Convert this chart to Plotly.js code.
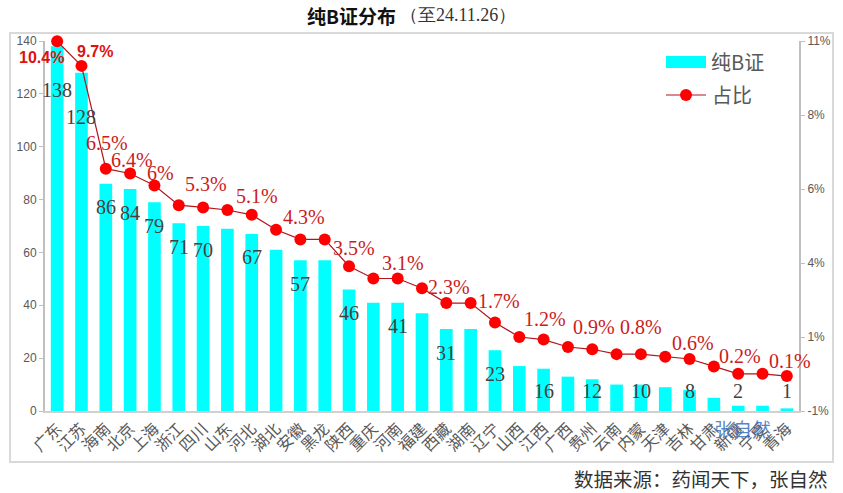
<!DOCTYPE html>
<html>
<head>
<meta charset="utf-8">
<script src="https://cdn.plot.ly/plotly-3.0.1.min.js"></script>
<style>html,body{margin:0;padding:0;background:#fff;}#chart{width:843px;height:493px;}</style>
</head>
<body>
<div id="chart"></div>
<script>
// ---- data ----
const provinces = ['广东','江苏','海南','北京','上海','浙江','四川','山东','河北','湖北','安徽','黑龙','陕西','重庆','河南','福建','西藏','湖南','辽宁','山西','江西','广西','贵州','云南','内蒙','天津','吉林','甘肃','新疆','宁夏','青海'];
const counts = [138,128,86,84,79,71,70,69,67,61,57,57,46,41,41,37,31,31,23,17,16,13,12,10,10,9,8,5,2,2,1];
const shares = [10.44,9.68,6.5,6.35,5.98,5.37,5.3,5.22,5.07,4.61,4.31,4.31,3.48,3.1,3.1,2.8,2.34,2.34,1.74,1.29,1.21,0.98,0.91,0.76,0.76,0.68,0.61,0.38,0.15,0.15,0.08];
const countLabels = ['138','128','86','84','79','71','70','','67','','57','','46','','41','','31','','23','','16','','12','','10','','8','','2','','1'];
const shareLabels = ['10.4%','9.7%','6.5%','6.4%','6%','','5.3%','','5.1%','','4.3%','','3.5%','','3.1%','','2.3%','','1.7%','','1.2%','','0.9%','','0.8%','','0.6%','','0.2%','','0.1%'];
const rightTickVals = [-1,1.29,3.58,5.87,8.16,10.45];
const rightTickText = ['-1%','1%','4%','6%','8%','11%'];
const titleMain = '纯B证分布';
const titleSub = '（至24.11.26）';
const seriesNames = ['纯B证','占比'];
const sourceText = '数据来源：药闻天下，张自然';
const watermark = '张自然';

// ---- label offsets (style only, px) ----
const shareOffsets = {0:[-16,-16],1:[14,14],2:[1,26],3:[2,13],4:[6,12],6:[3,23],8:[5,19],10:[4,22],12:[5,18],14:[5,16],16:[3,16],18:[4,21],20:[1,21],22:[2,22],24:[0,27],26:[3,16],28:[2,18],30:[3,15]};

const serif = '"Liberation Serif","DejaVu Serif",serif';
const cjk = '"Noto Sans CJK SC","Noto Sans",sans-serif';

const traces = [
  {type:'bar', x:provinces, y:counts, name:seriesNames[0], marker:{color:'#00ffff'}, hoverinfo:'x+y', showlegend:false},
  {type:'scatter', mode:'lines+markers', x:provinces, y:shares, yaxis:'y2', name:seriesNames[1],
   line:{color:'#b3141c', width:1.2}, marker:{color:'#ff0000', size:12}, showlegend:false, cliponaxis:false}
];

const annotations = [];
provinces.forEach((p,i)=>{
  if (countLabels[i]) {
    const big = i < 2;
    annotations.push({xref:'x', yref:'y', x:p, y:Math.max(counts[i],16.6), yshift: big ? -44 : -23.5,
      text:countLabels[i], showarrow:false, font:{family:serif, size:20, color:'#404040'}});
  }
  if (shareLabels[i]) {
    const off = shareOffsets[i] || [0,18];
    const bold = i < 2;
    annotations.push({xref:'x', yref:'y2', x:p, y:shares[i], xshift:off[0], yshift:off[1],
      text: bold ? '<b>'+shareLabels[i]+'</b>' : shareLabels[i], showarrow:false,
      font: bold ? {family:'"Liberation Sans","Noto Sans",sans-serif', size:16, color:'#e01010'}
                 : {family:serif, size:20, color:'#cc1b1b'}});
  }
});

// legend (drawn manually to match the wide swatch)
const px = x => (x-45)/754;
const py = y => (411-y)/370;
annotations.push({xref:'paper', yref:'paper', x:px(709), y:py(62), xanchor:'left', yanchor:'middle', text:seriesNames[0], showarrow:false, font:{family:cjk, size:20, color:'#595959'}});
annotations.push({xref:'paper', yref:'paper', x:px(710), y:py(95), xanchor:'left', yanchor:'middle', text:seriesNames[1], showarrow:false, font:{family:cjk, size:20, color:'#595959'}});
// watermark and source
annotations.push({xref:'paper', yref:'paper', x:px(742), y:py(428), xanchor:'center', yanchor:'middle', text:watermark, showarrow:false, font:{family:cjk, size:19, color:'rgba(60,110,185,0.85)'}});
annotations.push({xref:'paper', yref:'paper', x:px(830), y:py(478), xanchor:'right', yanchor:'middle', text:sourceText, showarrow:false, font:{family:cjk, size:19.5, color:'#333333'}});
// title
annotations.push({xref:'paper', yref:'paper', x:px(398), y:py(15), xanchor:'right', yanchor:'middle', text:'<b>'+titleMain+'</b>', showarrow:false, font:{family:cjk, size:19, color:'#111111'}});
annotations.push({xref:'paper', yref:'paper', x:px(398), y:py(15), xanchor:'left', yanchor:'middle', text:titleSub, showarrow:false, font:{family:serif, size:18, color:'#333333'}});

const shapes = [
  {type:'rect', xref:'paper', yref:'paper', x0:px(10), x1:px(833), y0:py(462), y1:py(33), line:{color:'#d9d9d9', width:2}, layer:'below'},
  {type:'rect', xref:'paper', yref:'paper', x0:px(666), x1:px(706), y0:py(68), y1:py(56), fillcolor:'#00ffff', line:{width:0}},
  {type:'line', xref:'paper', yref:'paper', x0:px(666), x1:px(706), y0:py(95), y1:py(95), line:{color:'#b3141c', width:1.2}},
  {type:'circle', xref:'paper', yref:'paper', x0:px(680), x1:px(692), y0:py(101), y1:py(89), fillcolor:'#ff0000', line:{width:0}}
];

const layout = {
  width:843, height:493,
  margin:{l:45, r:44, t:41, b:82, pad:0},
  paper_bgcolor:'#ffffff', plot_bgcolor:'#ffffff',
  bargap:0.48,
  xaxis:{type:'category', range:[-0.5, provinces.length-0.5], showline:true, linecolor:'#d0d0d0', linewidth:2, ticks:'', tickangle:-45,
         tickfont:{family:cjk, size:16, color:'#595959'}, showgrid:false, zeroline:false, fixedrange:true},
  yaxis:{range:[0,140], dtick:20, showline:true, linecolor:'#bfbfbf', linewidth:2, ticks:'outside', ticklen:4, tickcolor:'#bfbfbf',
         tickfont:{family:'"Liberation Sans",sans-serif', size:12, color:'#595959'}, showgrid:false, zeroline:false, fixedrange:true},
  yaxis2:{overlaying:'y', side:'right', range:[-1,10.45], tickvals:rightTickVals, ticktext:rightTickText,
          showline:true, linecolor:'#bfbfbf', linewidth:2, ticks:'outside', ticklen:4, tickcolor:'#bfbfbf',
          tickfont:{family:'"Liberation Sans",sans-serif', size:12, color:'#595959'}, showgrid:false, zeroline:false, fixedrange:true},
  annotations:annotations, shapes:shapes, showlegend:false
};

Plotly.newPlot('chart', traces, layout, {displayModeBar:false, staticPlot:true});
</script>
</body>
</html>
